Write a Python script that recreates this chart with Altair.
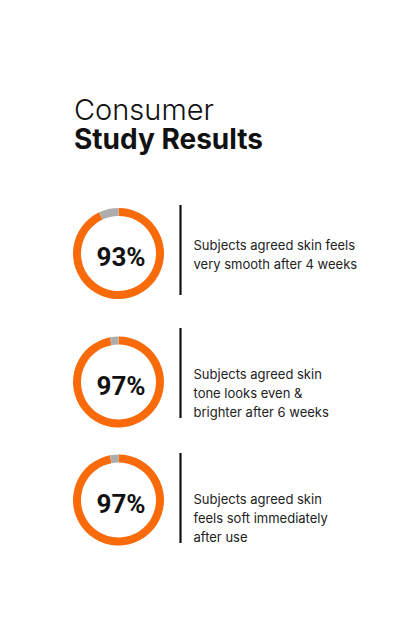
import math
import altair as alt
import pandas as pd

# ---------------- data ----------------
title_light = "Consumer"
title_bold = "Study Results"
items = ["smooth", "even", "soft"]
agreed_pct = [93, 97, 97]
pct_labels = ["93%", "97%", "97%"]
descriptions = [
    "Subjects agreed skin feels\nvery smooth after 4 weeks",
    "Subjects agreed skin\ntone looks even &\nbrighter after 6 weeks",
    "Subjects agreed skin\nfeels soft immediately\nafter use",
]
segments = ["Agreed", "Other"]

# ---------------- layout (pixels) ----------------
W, H = 416, 624
RING_CX = 118.5
RING_CY = [253.5, 382, 500]
RULE_CY = [250, 373, 498]
TEXT_CY = [245.6, 375.4, 500.1]
TITLE_Y = [120, 149]
ORANGE = "#F96A0A"
GRAY = "#ADADAD"
INK = "#111111"

# ---------------- tables ----------------
arc_rows = []
for i, (it, p) in enumerate(zip(items, agreed_pct)):
    arc_rows.append({"item": it, "segment": segments[0], "value": p, "order": 0, "cy": RING_CY[i]})
    arc_rows.append({"item": it, "segment": segments[1], "value": 100 - p, "order": 1, "cy": RING_CY[i]})
arc_df = pd.DataFrame(arc_rows)

row_df = pd.DataFrame({
    "item": items,
    "pct": pct_labels,
    "desc": descriptions,
    "ring_cy": RING_CY,
    "rule_cy": RULE_CY,
    "text_cy": TEXT_CY,
})

title_df = pd.DataFrame({"text": [title_light, title_bold], "ty": TITLE_Y, "kind": ["light", "bold"]})

yscale = alt.Scale(domain=[0, H], range=[0, H], nice=False, zero=False)

arcs = alt.Chart(arc_df).transform_stack(
    stack="value", groupby=["item"], as_=["t0", "t1"], sort=[alt.SortField("order")]
).mark_arc(outerRadius=45.5, innerRadius=37.5).encode(
    theta=alt.Theta("t0:Q", stack=None, scale=alt.Scale(domain=[0, 100], range=[0, 2 * math.pi])),
    theta2="t1:Q",
    color=alt.Color("segment:N", scale=alt.Scale(domain=segments, range=[ORANGE, GRAY]), legend=None),
    x=alt.value(RING_CX),
    y=alt.Y("cy:Q", stack=None, scale=yscale, axis=None),
)

pcts = alt.Chart(row_df).mark_text(
    font="Roboto", fontWeight="bold", fontSize=26, align="center", baseline="alphabetic",
    dx=2.5, dy=12.5, color=INK,
).encode(x=alt.value(RING_CX), y=alt.Y("ring_cy:Q", scale=yscale, axis=None), text="pct:N")

rules = alt.Chart(row_df).mark_tick(orient="vertical", size=90, thickness=2.2, color=INK,
                                    opacity=1).encode(
    x=alt.value(180.5), y=alt.Y("rule_cy:Q", scale=yscale, axis=None)
)

descs = alt.Chart(row_df).mark_text(
    font="Inter", fontSize=13, align="left", baseline="middle", lineBreak="\n",
    lineHeight=19, color="#222222",
).encode(x=alt.value(193.5), y=alt.Y("text_cy:Q", scale=yscale, axis=None), text="desc:N")

title_l = alt.Chart(title_df).transform_filter(alt.datum.kind == "light").mark_text(
    font="Inter", fontWeight=300, fontSize=29, align="left", baseline="alphabetic", color=INK
).encode(x=alt.value(74), y=alt.Y("ty:Q", scale=yscale, axis=None), text="text:N")

title_b = alt.Chart(title_df).transform_filter(alt.datum.kind == "bold").mark_text(
    font="Inter", fontWeight=700, fontSize=28, align="left", baseline="alphabetic", color=INK
).encode(x=alt.value(74), y=alt.Y("ty:Q", scale=yscale, axis=None), text="text:N")

chart = alt.layer(arcs, pcts, rules, descs, title_l, title_b).properties(
    width=W, height=H, padding=0, autosize=alt.AutoSizeParams(type="none"), background="white"
).configure_view(stroke=None)

chart.save("out.html", embed_options={"renderer": "svg", "actions": False})
